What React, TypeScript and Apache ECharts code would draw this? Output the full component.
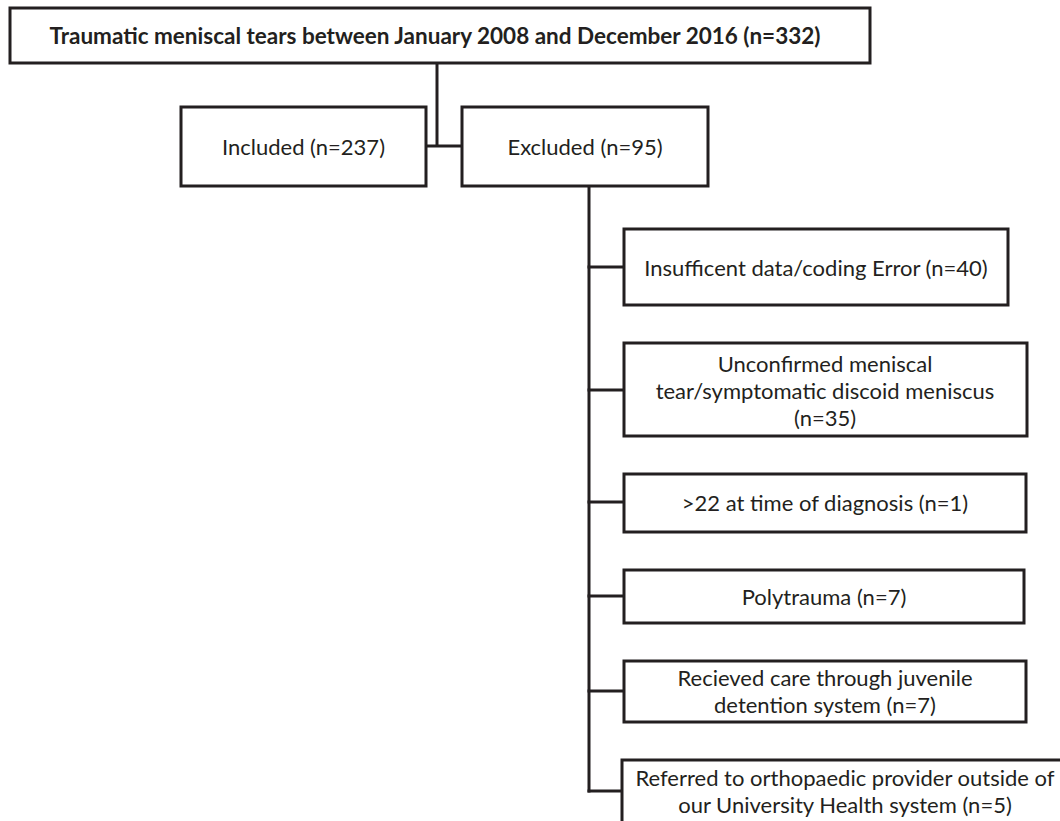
import React, { useEffect, useRef } from "react";
import * as echarts from "echarts";

// Flowchart content
const titleLabel = "Traumatic meniscal tears between January 2008 and December 2016 (n=332)";
const splitLabels = ["Included (n=237)", "Excluded (n=95)"];
const exclusionLabels = [
  "Insufficent data/coding Error (n=40)",
  "Unconfirmed meniscal\ntear/symptomatic discoid meniscus\n(n=35)",
  ">22 at time of diagnosis (n=1)",
  "Polytrauma (n=7)",
  "Recieved care through juvenile\ndetention system (n=7)",
  "Referred to orthopaedic provider outside of\nour University Health system (n=5)",
];

// Layout (pixel boxes: x0, y0, x1, y1)
const titleBox = [10, 8, 870, 63];
const splitBoxes = [
  [181, 107, 426, 186],
  [462, 107, 708, 186],
];
const exclusionBoxes = [
  [624, 229, 1008, 305],
  [624, 343, 1027, 436],
  [624, 474, 1026, 532],
  [624, 570, 1024, 623],
  [624, 661, 1026, 722],
  [622, 760, 1064, 832],
];
const exclusionTextY = [267, 390, 502, 596, 691, 791];

const INK = "#231f20";
const FONT = "Lato";
const FS = 22;
const FS_BOLD = 22.5;
const LW = 3;

function rectEl(b: number[]) {
  return {
    type: "rect",
    shape: { x: b[0], y: b[1], width: b[2] - b[0], height: b[3] - b[1] },
    style: { fill: "#ffffff", stroke: INK, lineWidth: LW },
    z: 1,
  };
}
function lineEl(x1: number, y1: number, x2: number, y2: number) {
  return {
    type: "line",
    shape: { x1, y1, x2, y2 },
    style: { stroke: INK, lineWidth: LW },
    z: 0,
  };
}
function textEl(t: string, x: number, y: number, bold = false) {
  return {
    type: "text",
    x,
    y,
    style: {
      text: t,
      fill: INK,
      fontFamily: FONT,
      fontSize: bold ? FS_BOLD : FS,
      fontWeight: bold ? "bold" : "normal",
      align: "center",
      verticalAlign: "middle",
      lineHeight: 27,
    },
    z: 2,
  };
}

export default function App() {
  const ref = useRef<HTMLDivElement>(null);
  useEffect(() => {
    if (!ref.current) return;
    const chart = echarts.init(ref.current, undefined, { renderer: "svg" });
    const els: any[] = [];
    // connectors
    const trunkX = 437;
    const joinY = 146;
    els.push(lineEl(trunkX, titleBox[3], trunkX, joinY));
    els.push(lineEl(splitBoxes[0][2], joinY, splitBoxes[1][0], joinY));
    const exX = 589;
    const lastY = exclusionTextY[exclusionTextY.length - 1];
    els.push(lineEl(exX, splitBoxes[1][3], exX, lastY + LW / 2));
    exclusionBoxes.forEach((b, i) => {
      els.push(lineEl(exX - LW / 2, exclusionTextY[i], b[0], exclusionTextY[i]));
    });
    // boxes
    els.push(rectEl(titleBox));
    els.push(textEl(titleLabel, (titleBox[0] + titleBox[2]) / 2 - 5, (titleBox[1] + titleBox[3]) / 2, true));
    splitBoxes.forEach((b, i) => {
      els.push(rectEl(b));
      els.push(textEl(splitLabels[i], (b[0] + b[2]) / 2, (b[1] + b[3]) / 2));
    });
    const exTextCx = [816, 825, 825, 824, 825, 845];
    const exTextCy = [267, 390, 502, 596, 691, 791];
    exclusionBoxes.forEach((b, i) => {
      els.push(rectEl(b));
      els.push(textEl(exclusionLabels[i], exTextCx[i], exTextCy[i]));
    });
    chart.setOption({
      animation: false,
      backgroundColor: "#ffffff",
      graphic: { elements: els },
    });
    return () => chart.dispose();
  }, []);
  return (
    <div
      ref={ref}
      style={{ position: "fixed", left: 0, top: 0, width: 1060, height: 821 }}
    />
  );
}
